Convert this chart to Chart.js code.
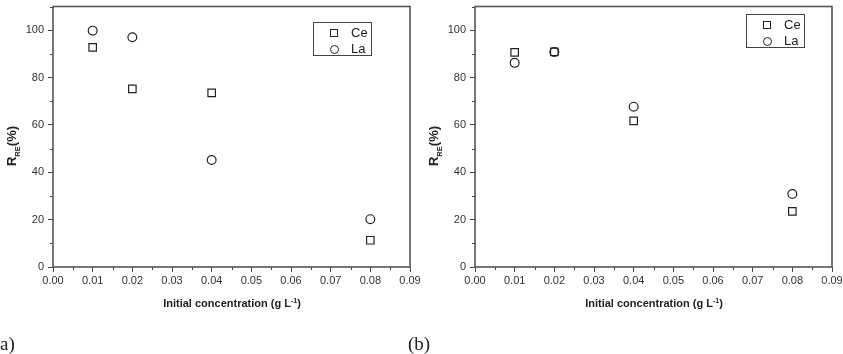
<!DOCTYPE html>
<html>
<head>
<meta charset="utf-8">
<script src="https://cdn.jsdelivr.net/npm/chart.js@4"></script>
<style>
  body { margin: 0; background: #fff; width: 843px; height: 354px; overflow: hidden; position: relative; font-family: "Liberation Sans", Arial, sans-serif; }
  canvas { position: absolute; top: 0; }
  .ytitle { position: absolute; transform: translate(-50%, -50%) rotate(-90deg); font-weight: bold; font-size: 13px; color: #222; white-space: nowrap; }
  .ytitle sub { font-size: 7.5px; }
  .xtitle { position: absolute; transform: translate(-50%, -50%); font-weight: bold; font-size: 11px; color: #222; white-space: nowrap; top: 303px; }
  .xtitle sup { font-size: 7px; }
  .legend { position: absolute; width: 57px; height: 32px; border: 1.5px solid #444; }
  .legend .row { position: absolute; left: 0; height: 16px; font-size: 13px; color: #222; line-height: 16px; }
  .legend .mk { position: absolute; left: 16px; width: 6px; height: 6px; border: 1.2px solid #222; }
  .legend .mk.c { width: 7px; height: 7px; border-radius: 50%; }
  .legend .tx { position: absolute; left: 37px; }
  .panel { position: absolute; top: 333px; font-family: "Liberation Serif", "DejaVu Serif", serif; font-size: 19px; color: #222; }
</style>
</head>
<body>
<canvas id="chartA" width="421" height="354" style="left:0"></canvas>
<canvas id="chartB" width="422" height="354" style="left:421px"></canvas>

<div class="ytitle" style="left:13px; top:146px">R<sub>RE</sub>(%)</div>
<div class="ytitle" style="left:435px; top:146px">R<sub>RE</sub>(%)</div>
<div class="xtitle" style="left:232px">Initial concentration (g L<sup>-1</sup>)</div>
<div class="xtitle" style="left:654px">Initial concentration (g L<sup>-1</sup>)</div>

<div class="legend" style="left:313px; top:22px">
  <div class="row" style="top:2px"><span class="mk" style="top:4px"></span><span class="tx">Ce</span></div>
  <div class="row" style="top:18px"><span class="mk c" style="top:4px"></span><span class="tx">La</span></div>
</div>
<div class="legend" style="left:746px; top:14px">
  <div class="row" style="top:2px"><span class="mk" style="top:4px"></span><span class="tx">Ce</span></div>
  <div class="row" style="top:18px"><span class="mk c" style="top:4px"></span><span class="tx">La</span></div>
</div>

<div class="panel" style="left:0">a)</div>
<div class="panel" style="left:408px">(b)</div>

<script>
// concentrations (g/L)
const concentrations = [0.01, 0.02, 0.04, 0.08];

// panel (a)
const ceA = [92.7, 75.2, 73.5, 11.3];
const laA = [99.8, 97.0, 45.2, 20.2];

// panel (b)
const ceB = [90.6, 90.8, 61.7, 23.5];
const laB = [86.2, 90.8, 67.7, 30.8];

const xTicks = [0, 0.01, 0.02, 0.03, 0.04, 0.05, 0.06, 0.07, 0.08, 0.09];
const xMinorTicks = [0.005, 0.015, 0.025, 0.035, 0.045, 0.055, 0.065, 0.075, 0.085];
const yTicks = [0, 20, 40, 60, 80, 100];
const yMinorTicks = [10, 30, 50, 70, 90, 110];

const toPoints = (vals) => concentrations.map((c, i) => ({ x: c, y: vals[i] }));

// minor ticks + box frame around the plot
const frame = {
    id: "frame",
    afterDraw(chart) {
        const { ctx, chartArea: a, scales } = chart;
        ctx.save();
        ctx.strokeStyle = "#444";
        ctx.lineWidth = 1;
        ctx.beginPath();
        xMinorTicks.forEach((v) => {
            const px = Math.round(scales.x.getPixelForValue(v)) + 0.5;
            ctx.moveTo(px, a.bottom);
            ctx.lineTo(px, a.bottom + 3);
        });
        yMinorTicks.forEach((v) => {
            const py = Math.round(scales.y.getPixelForValue(v)) + 0.5;
            ctx.moveTo(a.left, py);
            ctx.lineTo(a.left - 3, py);
        });
        ctx.stroke();
        ctx.strokeStyle = "#555";
        ctx.lineWidth = 1.6;
        ctx.strokeRect(a.left, a.top, a.right - a.left, a.bottom - a.top);
        ctx.restore();
    },
};

function initScatter(canvasId, ce, la, leftW) {
    const canvas = document.getElementById(canvasId);
    const tickFont = { family: "'Liberation Sans', Arial, sans-serif", size: 11 };

    new Chart(canvas, {
        type: "scatter",
        data: {
            datasets: [
                {
                    label: "Ce",
                    data: toPoints(ce),
                    pointStyle: "rect",
                    pointRadius: 5.3,
                    pointHoverRadius: 5.3,
                    borderColor: "#222",
                    borderWidth: 1.2,
                    backgroundColor: "rgba(0,0,0,0)",
                },
                {
                    label: "La",
                    data: toPoints(la),
                    pointStyle: "circle",
                    pointRadius: 4.4,
                    pointHoverRadius: 4.4,
                    borderColor: "#222",
                    borderWidth: 1.2,
                    backgroundColor: "rgba(0,0,0,0)",
                },
            ],
        },
        options: {
            responsive: false,
            animation: false,
            layout: { padding: { top: 5, right: 11, left: 0, bottom: 0 } },
            plugins: { legend: { display: false }, tooltip: { enabled: false } },
            scales: {
                x: {
                    type: "linear",
                    min: 0,
                    max: 0.09,
                    afterBuildTicks: (s) => { s.ticks = xTicks.map((v) => ({ value: v })); },
                    afterFit: (s) => {
                        s.height = 354 - 267;
                        s.paddingLeft = 0; s.paddingRight = 0;
                    },
                    grid: { drawOnChartArea: false, tickLength: 5, tickColor: "#444" },
                    border: { display: false },
                    ticks: {
                        font: tickFont,
                        color: "#333",
                        padding: 2,
                        maxRotation: 0,
                        autoSkip: false,
                        callback: (v) => Number(v).toFixed(2),
                    },
                },
                y: {
                    min: 0,
                    max: 110,
                    afterBuildTicks: (s) => { s.ticks = yTicks.map((v) => ({ value: v })); },
                    afterFit: (s) => {
                        s.width = leftW;
                        s.paddingTop = 0; s.paddingBottom = 0;
                    },
                    grid: { drawOnChartArea: false, tickLength: 5, tickColor: "#444" },
                    border: { display: false },
                    ticks: { font: tickFont, color: "#333", padding: 4, autoSkip: false },
                },
            },
        },
        plugins: [frame],
    });
}

initScatter("chartA", ceA, laA, 53);
initScatter("chartB", ceB, laB, 54);
</script>
</body>
</html>
